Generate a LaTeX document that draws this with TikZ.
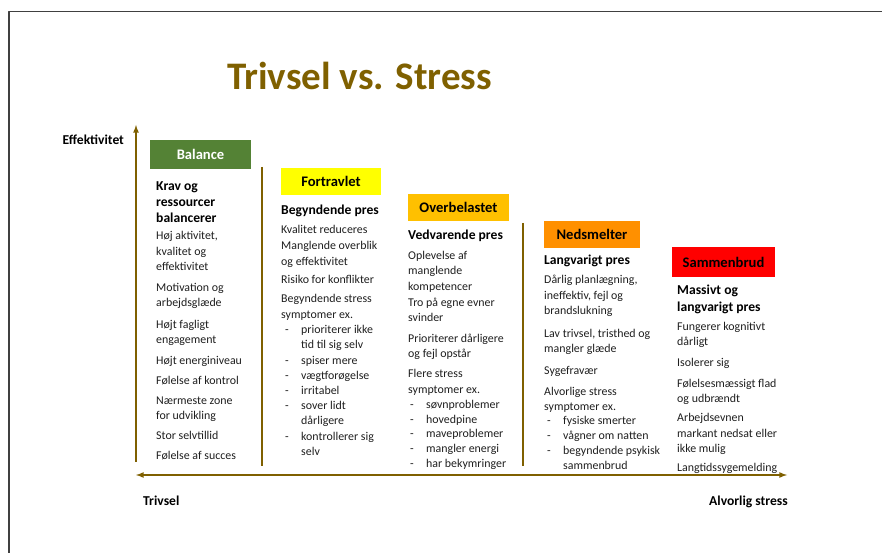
\documentclass[tikz,border=0pt]{standalone}
\usepackage{fontspec}
\setmainfont{Carlito}
\definecolor{axisbrown}{RGB}{127,96,0}
\definecolor{framegray}{RGB}{64,64,64}
\definecolor{txtgray}{RGB}{30,30,30}
\definecolor{balgreen}{RGB}{84,130,53}
\definecolor{busyyellow}{RGB}{255,255,0}
\definecolor{overamber}{RGB}{255,192,0}
\definecolor{meltorange}{RGB}{255,144,0}
\definecolor{breakred}{RGB}{255,0,0}
\newcommand{\dsh}[1]{\makebox[16bp][l]{-}#1}
\newcommand{\ind}{\hspace*{16bp}}
\begin{document}
\begin{tikzpicture}[>=latex,line join=bevel,
  txt/.style={anchor=base west,inner sep=0pt,align=left,text=txtgray,
    font=\fontsize{11.9bp}{15.5bp}\selectfont},
  lst/.style={txt,font=\fontsize{11.9bp}{15.2bp}\selectfont},
  hd/.style={txt,text=black,font=\bfseries\fontsize{13.6bp}{16.5bp}\selectfont},
  lbl/.style={inner sep=0pt,text=black,font=\bfseries\fontsize{13.6bp}{16bp}\selectfont},
  stage/.style={draw=none,inner sep=0pt,minimum width=101bp,minimum height=27bp,
    font=\bfseries\fontsize{14.6bp}{17bp}\selectfont},
  axis/.style={draw=axisbrown,line width=1.6bp},
  sep/.style={draw=axisbrown,line width=1.4bp}]
\useasboundingbox (0bp,0bp) rectangle (882bp,553bp);
%% frame and title
\draw [framegray,line width=1.8bp] (9bp,0bp) -- (9bp,541.5bp) -- (882bp,541.5bp);
\node (title) at (359.5bp,463bp) [anchor=base,inner sep=0pt,text=axisbrown,font=\bfseries\fontsize{39bp}{44bp}\selectfont] {Trivsel vs. Stress};
%% axes
\coordinate (ax_bottom) at (136bp,91bp);
\coordinate (ax_top) at (136bp,428bp);
\coordinate (ax_left) at (136bp,78bp);
\coordinate (ax_right) at (787bp,78bp);
\draw [axis,->] (ax_bottom) -- (ax_top);
\draw [axis,<->] (ax_left) -- (ax_right);
\node (lbl_y) at (62.5bp,408bp) [lbl,anchor=base west] {Effektivitet};
\node (lbl_left) at (143bp,47bp) [lbl,anchor=base west] {Trivsel};
\node (lbl_right) at (788bp,47bp) [lbl,anchor=base east] {Alvorlig stress};
%% separators
\coordinate (sep_1a) at (262bp,386bp);
\coordinate (sep_1b) at (262bp,87bp);
\coordinate (sep_2a) at (523bp,330bp);
\coordinate (sep_2b) at (523bp,87bp);
\draw [sep] (sep_1a) -- (sep_1b);
\draw [sep] (sep_2a) -- (sep_2b);
%% stage boxes
\node (stage_0) at (200.5bp,398.5bp) [stage,fill=balgreen,text=white,minimum height=29bp] {Balance};
\node (stage_1) at (331bp,371.5bp) [stage,fill=busyyellow,minimum width=100bp] {Fortravlet};
\node (stage_2) at (458.5bp,345.5bp) [stage,fill=overamber] {Overbelastet};
\node (stage_3) at (592bp,318.5bp) [stage,fill=meltorange,minimum width=96bp] {Nedsmelter};
\node (stage_4) at (723.5bp,291bp) [stage,fill=breakred,minimum width=103bp,minimum height=30bp] {Sammenbrud};
%% column 0 (multi-line nodes sit on their last baseline)
\node (c0_0) at (156bp,330.3bp) [hd,font=\bfseries\fontsize{13.6bp}{16bp}\selectfont] {Krav og\\ressourcer\\balancerer};
\node (c0_1) at (156bp,282bp) [txt] {Høj aktivitet,\\kvalitet og\\effektivitet};
\node (c0_2) at (156bp,246.3bp) [txt] {Motivation og\\arbejdsglæde};
\node (c0_3) at (156bp,209bp) [txt] {Højt fagligt\\engagement};
\node (c0_4) at (156bp,188bp) [txt] {Højt energiniveau};
\node (c0_5) at (156bp,168bp) [txt] {Følelse af kontrol};
\node (c0_6) at (156bp,133bp) [txt] {Nærmeste zone\\for udvikling};
\node (c0_7) at (156bp,113bp) [txt] {Stor selvtillid};
\node (c0_8) at (156bp,93bp) [txt] {Følelse af succes};
%% column 1
\node (c1_0) at (281bp,338bp) [hd] {Begyndende pres};
\node (c1_1) at (281bp,319bp) [txt] {Kvalitet reduceres};
\node (c1_2) at (281bp,287.5bp) [txt] {Manglende overblik\\og effektivitet};
\node (c1_3) at (281bp,269bp) [txt] {Risiko for konflikter};
\node (c1_4) at (281bp,234.7bp) [txt] {Begyndende stress\\symptomer ex.};
\node (c1_5) at (285bp,97.7bp) [lst] {\dsh{prioriterer ikke}\\\ind tid til sig selv\\\dsh{spiser mere}\\\dsh{vægtforøgelse}\\\dsh{irritabel}\\\dsh{sover lidt}\\\ind dårligere\\\dsh{kontrollerer sig}\\\ind selv};
%% column 2
\node (c2_0) at (408bp,313bp) [hd] {Vedvarende pres};
\node (c2_1) at (408bp,262.7bp) [txt] {Oplevelse af\\manglende\\kompetencer};
\node (c2_2) at (408bp,231.3bp) [txt] {Tro på egne evner\\svinder};
\node (c2_3) at (408bp,195.3bp) [txt] {Prioriterer dårligere\\og fejl opstår};
\node (c2_4) at (408bp,159.7bp) [txt] {Flere stress\\symptomer ex.};
\node (c2_5) at (410bp,85.3bp) [lst,font=\fontsize{11.9bp}{14.85bp}\selectfont] {\dsh{søvnproblemer}\\\dsh{hovedpine}\\\dsh{maveproblemer}\\\dsh{mangler energi}\\\dsh{har bekymringer}};
%% column 3
\node (c3_0) at (544bp,288bp) [hd] {Langvarigt pres};
\node (c3_1) at (544bp,238bp) [txt] {Dårlig planlægning,\\ineffektiv, fejl og\\brandslukning};
\node (c3_2) at (544bp,200.3bp) [txt] {Lav trivsel, tristhed og\\mangler glæde};
\node (c3_3) at (544bp,178.7bp) [txt] {Sygefravær};
\node (c3_4) at (544bp,142bp) [txt] {Alvorlige stress\\symptomer ex.};
\node (c3_5) at (547bp,83bp) [lst,font=\fontsize{11.9bp}{15bp}\selectfont] {\dsh{fysiske smerter}\\\dsh{vågner om natten}\\\dsh{begyndende psykisk}\\\ind sammenbrud};
%% column 4
\node (c4_0) at (677bp,241.3bp) [hd,font=\bfseries\fontsize{13.6bp}{16.7bp}\selectfont] {Massivt og\\langvarigt pres};
\node (c4_1) at (677bp,207bp) [txt] {Fungerer kognitivt\\dårligt};
\node (c4_2) at (677bp,186.3bp) [txt] {Isolerer sig};
\node (c4_3) at (677bp,150.3bp) [txt] {Følelsesmæssigt flad\\og udbrændt};
\node (c4_4) at (677bp,100.3bp) [txt] {Arbejdsevnen\\markant nedsat eller\\ikke mulig};
\node (c4_5) at (677bp,81.3bp) [txt] {Langtidssygemelding};
%
\end{tikzpicture}
\end{document}
